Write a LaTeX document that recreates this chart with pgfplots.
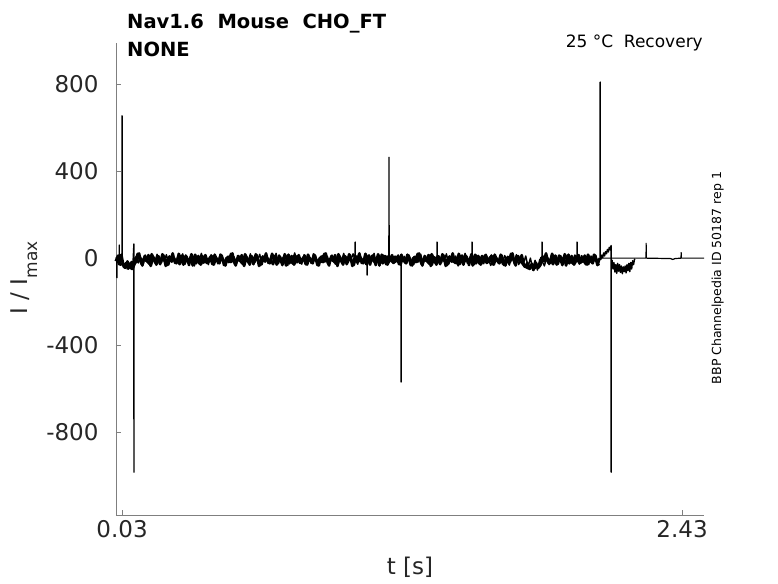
\documentclass[border=0pt]{standalone}
\usepackage{pgfplots}
\pgfplotsset{compat=1.18}
\usepackage{fontspec}
\setmainfont{DejaVu Sans}
\definecolor{tickgray}{HTML}{262626}
\definecolor{axgray}{HTML}{7F7F7F}
\begin{document}
\begin{tikzpicture}
\useasboundingbox (-116pt,-68pt) rectangle (662pt,515pt);
\begin{axis}[at={(0pt,0pt)}, anchor=south west,
  width=588pt, height=472pt, scale only axis,
  xmin=0.004, xmax=2.524, ymin=-1182, ymax=990,
  axis x line*=bottom, axis y line*=left,
  axis line style={axgray, line width=0.8pt},
  xtick={0.03,2.43}, xticklabels={0.03,2.43},
  ytick={-800,-400,0,400,800}, yticklabels={-800,-400,0,400,800},
  tick align=inside, major tick length=5pt,
  tick style={axgray, line width=0.8pt},
  /pgf/number format/assume math mode=true,
  ticklabel style={font=\fontsize{23}{27}\selectfont, text=tickgray},
  yticklabel style={xshift=-14pt},
  xticklabel style={yshift=-2pt},
  clip=false]
% sweep B (noise)
\addplot[black, line width=2.6pt, line join=round] coordinates {
(0.003,-14) (0.013,12) (0.023,-30) (0.033,-25) (0.043,-45) (0.053,-15) (0.063,-40) (0.073,-50) (0.083,-20) (0.093,-18)
(0.103,22) (0.113,-26) (0.123,-2) (0.133,-12) (0.143,14) (0.153,-36) (0.163,4) (0.173,-22) (0.183,10) (0.193,-28)
(0.203,18) (0.213,-10) (0.223,-32) (0.233,8) (0.243,-16) (0.253,0) (0.263,-24) (0.273,20) (0.283,-6) (0.293,-30)
(0.303,12) (0.313,-20) (0.323,4) (0.333,-34) (0.343,16) (0.353,-12) (0.363,-26) (0.373,10) (0.383,-4) (0.393,-22)
(0.403,-14) (0.413,12) (0.423,-30) (0.433,2) (0.443,-20) (0.453,16) (0.463,-8) (0.473,-34) (0.483,6) (0.493,-18)
(0.503,22) (0.513,-26) (0.523,-2) (0.533,-12) (0.543,14) (0.553,-36) (0.563,4) (0.573,-22) (0.583,10) (0.593,-28)
(0.603,18) (0.613,-10) (0.623,-32) (0.633,8) (0.643,-16) (0.653,0) (0.663,-24) (0.673,20) (0.683,-6) (0.693,-30)
(0.703,12) (0.713,-20) (0.723,4) (0.733,-34) (0.743,16) (0.753,-12) (0.763,-26) (0.773,10) (0.783,-4) (0.793,-22)
(0.803,-14) (0.813,12) (0.823,-30) (0.833,2) (0.843,-20) (0.853,16) (0.863,-8) (0.873,-34) (0.883,6) (0.893,-18)
(0.903,22) (0.913,-26) (0.923,-2) (0.933,-12) (0.943,14) (0.953,-36) (0.963,4) (0.973,-22) (0.983,10) (0.993,-28)
(1.003,18) (1.013,-10) (1.023,-32) (1.033,8) (1.043,-16) (1.053,0) (1.063,-24) (1.073,20) (1.083,-6) (1.093,-30)
(1.103,12) (1.113,-20) (1.123,4) (1.133,-34) (1.143,16) (1.153,-12) (1.163,-26) (1.173,10) (1.183,-4) (1.193,-22)
(1.203,-14) (1.213,12) (1.223,-30) (1.233,2) (1.243,-20) (1.253,16) (1.263,-8) (1.273,-34) (1.283,6) (1.293,-18)
(1.303,22) (1.313,-26) (1.323,-2) (1.333,-12) (1.343,14) (1.353,-36) (1.363,4) (1.373,-22) (1.383,10) (1.393,-28)
(1.403,18) (1.413,-10) (1.423,-32) (1.433,8) (1.443,-16) (1.453,0) (1.463,-24) (1.473,20) (1.483,-6) (1.493,-30)
(1.503,12) (1.513,-20) (1.523,4) (1.533,-34) (1.543,16) (1.553,-12) (1.563,-26) (1.573,10) (1.583,-4) (1.593,-22)
(1.603,-14) (1.613,12) (1.623,-30) (1.633,2) (1.643,-20) (1.653,16) (1.663,-8) (1.673,-34) (1.683,6) (1.693,-18)
(1.703,22) (1.713,-26) (1.723,-2) (1.733,-12) (1.743,14) (1.753,-36) (1.763,-42) (1.773,-48) (1.783,-30) (1.793,-55)
(1.803,-20) (1.813,-45) (1.823,-32) (1.833,8) (1.843,-16) (1.853,0) (1.863,-24) (1.873,20) (1.883,-6) (1.893,-30)
(1.903,12) (1.913,-20) (1.923,4) (1.933,-34) (1.943,16) (1.953,-12) (1.963,-26) (1.973,10) (1.983,-4) (1.993,-22)
(2.003,-14) (2.013,12) (2.023,-30) (2.033,2) (2.043,-20) (2.053,16) (2.063,-8) (2.073,-34)
};
% sweep C (noise)
\addplot[black, line width=2.6pt, line join=round] coordinates {
(0.007,4) (0.017,-28) (0.027,16) (0.037,-40) (0.047,-24) (0.057,-48) (0.067,-22) (0.077,-45) (0.087,-18) (0.097,20)
(0.107,-6) (0.117,-34) (0.127,10) (0.137,-14) (0.147,-26) (0.157,18) (0.167,-2) (0.177,-30) (0.187,8) (0.197,-20)
(0.207,14) (0.217,-36) (0.227,2) (0.237,-12) (0.247,22) (0.257,-22) (0.267,-8) (0.277,-28) (0.287,12) (0.297,-16)
(0.307,6) (0.317,-32) (0.327,18) (0.337,-4) (0.347,-24) (0.357,10) (0.367,-30) (0.377,-10) (0.387,14) (0.397,-18)
(0.407,4) (0.417,-28) (0.427,16) (0.437,-10) (0.447,-24) (0.457,12) (0.467,-32) (0.477,0) (0.487,-18) (0.497,20)
(0.507,-6) (0.517,-34) (0.527,10) (0.537,-14) (0.547,-26) (0.557,18) (0.567,-2) (0.577,-30) (0.587,8) (0.597,-20)
(0.607,14) (0.617,-36) (0.627,2) (0.637,-12) (0.647,22) (0.657,-22) (0.667,-8) (0.677,-28) (0.687,12) (0.697,-16)
(0.707,6) (0.717,-32) (0.727,18) (0.737,-4) (0.747,-24) (0.757,10) (0.767,-30) (0.777,-10) (0.787,14) (0.797,-18)
(0.807,4) (0.817,-28) (0.827,16) (0.837,-10) (0.847,-24) (0.857,12) (0.867,-32) (0.877,0) (0.887,-18) (0.897,20)
(0.907,-6) (0.917,-34) (0.927,10) (0.937,-14) (0.947,-26) (0.957,18) (0.967,-2) (0.977,-30) (0.987,8) (0.997,-20)
(1.007,14) (1.017,-36) (1.027,2) (1.037,-12) (1.047,22) (1.057,-22) (1.067,-8) (1.077,-28) (1.087,12) (1.097,-16)
(1.107,6) (1.117,-32) (1.127,18) (1.137,-4) (1.147,-24) (1.157,10) (1.167,-30) (1.177,-10) (1.187,14) (1.197,-18)
(1.207,4) (1.217,-28) (1.227,16) (1.237,-10) (1.247,-24) (1.257,12) (1.267,-32) (1.277,0) (1.287,-18) (1.297,20)
(1.307,-6) (1.317,-34) (1.327,10) (1.337,-14) (1.347,-26) (1.357,18) (1.367,-2) (1.377,-30) (1.387,8) (1.397,-20)
(1.407,14) (1.417,-36) (1.427,2) (1.437,-12) (1.447,22) (1.457,-22) (1.467,-8) (1.477,-28) (1.487,12) (1.497,-16)
(1.507,6) (1.517,-32) (1.527,18) (1.537,-4) (1.547,-24) (1.557,10) (1.567,-30) (1.577,-10) (1.587,14) (1.597,-18)
(1.607,4) (1.617,-28) (1.627,16) (1.637,-10) (1.647,-24) (1.657,12) (1.667,-32) (1.677,0) (1.687,-18) (1.697,20)
(1.707,-6) (1.717,-34) (1.727,10) (1.737,-14) (1.747,-26) (1.757,-40) (1.767,-22) (1.777,-50) (1.787,-26) (1.797,-48)
(1.807,-30) (1.817,-40) (1.827,2) (1.837,-12) (1.847,22) (1.857,-22) (1.867,-8) (1.877,-28) (1.887,12) (1.897,-16)
(1.907,6) (1.917,-32) (1.927,18) (1.937,-4) (1.947,-24) (1.957,10) (1.967,-30) (1.977,-10) (1.987,14) (1.997,-18)
(2.007,4) (2.017,-28) (2.027,16) (2.037,-10) (2.047,-24) (2.057,12) (2.067,-32) (2.077,0)
};
% sweep A (with transients)
\addplot[black, line width=1.4pt, line join=round] coordinates {
(0.004,-10) (0.0078,-4) (0.008,-90) (0.0082,-5) (0.014,10) (0.0178,0) (0.018,60) (0.0182,0) (0.024,-20) (0.028,5)
(0.0297,-5) (0.030,655) (0.0303,-15) (0.034,-30) (0.040,-45) (0.046,-20) (0.052,-50) (0.058,-25)
(0.064,-45) (0.070,-15) (0.076,-40) (0.0807,65) (0.081,-985) (0.0813,-20)
(0.09,8) (0.10,-22) (0.11,4) (0.12,-30) (0.13,14) (0.14,-12) (0.15,-34) (0.16,10) (0.17,-18) (0.18,18)
(0.19,-26) (0.20,2) (0.21,-14) (0.22,16) (0.23,-32) (0.24,6) (0.25,-8) (0.26,-24) (0.27,12) (0.28,-16)
(0.29,20) (0.30,-28) (0.31,0) (0.32,-20) (0.33,10) (0.34,-36) (0.35,6) (0.36,-10) (0.37,22) (0.38,-24)
(0.39,-4) (0.40,-30) (0.41,14) (0.42,-14) (0.43,8) (0.44,-26) (0.45,18) (0.46,-6) (0.47,-34) (0.48,4)
(0.49,10) (0.50,-20) (0.51,6) (0.52,-28) (0.53,12) (0.54,-14) (0.55,-32) (0.56,8) (0.57,-16) (0.58,20)
(0.59,-24) (0.60,4) (0.61,-12) (0.62,18) (0.63,-30) (0.64,8) (0.65,-6) (0.66,-22) (0.67,14) (0.68,-14)
(0.69,22) (0.70,-26) (0.71,2) (0.72,-18) (0.73,12) (0.74,-34) (0.75,8) (0.76,-8) (0.77,24) (0.78,-22)
(0.79,-2) (0.80,-28) (0.81,16) (0.82,-12) (0.83,10) (0.84,-24) (0.85,20) (0.86,-4) (0.87,-32) (0.88,6)
(0.89,12) (0.90,-18) (0.91,8) (0.92,-26) (0.93,14) (0.94,-12) (0.95,-30) (0.96,10) (0.97,-14) (0.98,22)
(0.99,-22) (1.00,6) (1.01,-10) (1.02,20) (1.0287,-10) (1.029,74) (1.0293,-8) (1.04,-28) (1.05,10) (1.06,-6)
(1.07,-20) (1.0797,10) (1.08,-78) (1.0803,-10) (1.09,14) (1.10,-14) (1.11,22) (1.12,-24) (1.13,4) (1.14,-18)
(1.15,14) (1.16,-30) (1.165,10) (1.1737,-8) (1.174,464) (1.1743,-6)
(1.19,-22) (1.20,10) (1.21,-18) (1.22,6) (1.2257,-10) (1.226,-570) (1.2263,-15)
(1.24,8) (1.25,-24) (1.26,14) (1.27,-14) (1.28,-30) (1.29,10) (1.30,-18) (1.31,18) (1.32,-26) (1.33,2)
(1.34,-14) (1.35,16) (1.36,-32) (1.37,6) (1.3797,-8) (1.38,74) (1.3803,-10) (1.39,-24) (1.40,12) (1.41,-16)
(1.42,20) (1.43,-28) (1.44,0) (1.45,-20) (1.46,10) (1.47,-36) (1.48,6) (1.49,-10) (1.50,22) (1.51,-24)
(1.52,-4) (1.5297,-12) (1.53,74) (1.5303,-14) (1.54,-30) (1.55,14) (1.56,-14) (1.57,8) (1.58,-26) (1.59,18)
(1.60,-6) (1.61,-34) (1.62,4) (1.63,10) (1.64,-20) (1.65,6) (1.66,-28) (1.67,12) (1.68,-14) (1.69,-32)
(1.70,8) (1.71,-16) (1.72,16) (1.73,-30) (1.74,2) (1.75,-26) (1.76,10) (1.77,-40) (1.78,0) (1.79,-48)
(1.80,-10) (1.81,-55) (1.82,-6) (1.8297,-20) (1.83,74) (1.8303,-14) (1.84,-36) (1.85,6) (1.86,-30) (1.87,14)
(1.88,-24) (1.89,8) (1.90,-28) (1.91,12) (1.92,-18) (1.93,16) (1.94,-26) (1.95,6) (1.96,-20) (1.97,14)
(1.9797,-12) (1.98,74) (1.9803,-10) (1.99,-28) (2.00,12) (2.01,-22) (2.02,8) (2.03,-30) (2.04,10) (2.05,-18)
(2.06,14) (2.07,-24) (2.0787,0) (2.079,810) (2.0793,10) (2.082,-6) (2.086,14) (2.09,2) (2.094,24) (2.098,10)
(2.102,30) (2.106,20) (2.110,40) (2.114,28) (2.118,50) (2.122,38) (2.1257,58) (2.126,-985) (2.1263,-30)
(2.130,-10) (2.134,-50) (2.138,-20) (2.142,-64) (2.146,-30) (2.150,-70) (2.154,-24) (2.158,-60) (2.162,-30)
(2.166,-66) (2.170,-36) (2.174,-72) (2.178,-40) (2.182,-62) (2.186,-36) (2.190,-68) (2.194,-30) (2.198,-58)
(2.202,-24) (2.206,-62) (2.210,-20) (2.214,-50) (2.218,-12) (2.222,-30) (2.226,-6) (2.228,-3)
};
% sweep D (flat tail)
\addplot[black, line width=1.2pt] coordinates {
(2.079,0) (2.2757,0) (2.276,70) (2.2763,0) (2.38,-2) (2.39,-6) (2.40,-2) (2.4257,0) (2.426,28) (2.4263,0) (2.524,0)
};
\end{axis}
\node[rotate=90, anchor=base, inner sep=0pt, font=\fontsize{23}{27}\selectfont, text=tickgray] at (-88pt,237pt) {I / I\raisebox{-0.4em}{\fontsize{17}{17}\selectfont max}};
\node[anchor=base, inner sep=0pt, font=\fontsize{23}{27}\selectfont, text=tickgray] at (294pt,-59pt) {t [s]};
\node[anchor=base west, inner sep=0pt, font=\fontsize{19.5}{23}\selectfont\bfseries] at (11pt,486pt) {Nav1.6\ \ Mouse\ \ CHO\_FT};
\node[anchor=base west, inner sep=0pt, font=\fontsize{19.5}{23}\selectfont\bfseries] at (11pt,458pt) {NONE};
\node[anchor=base east, inner sep=0pt, font=\fontsize{17}{20}\selectfont] at (587pt,467pt) {25 °C\ \ Recovery};
\node[rotate=90, anchor=base, inner sep=0pt, font=\fontsize{12.5}{15}\selectfont] at (605pt,237pt) {BBP Channelpedia ID 50187 rep 1};
\end{tikzpicture}
\end{document}
